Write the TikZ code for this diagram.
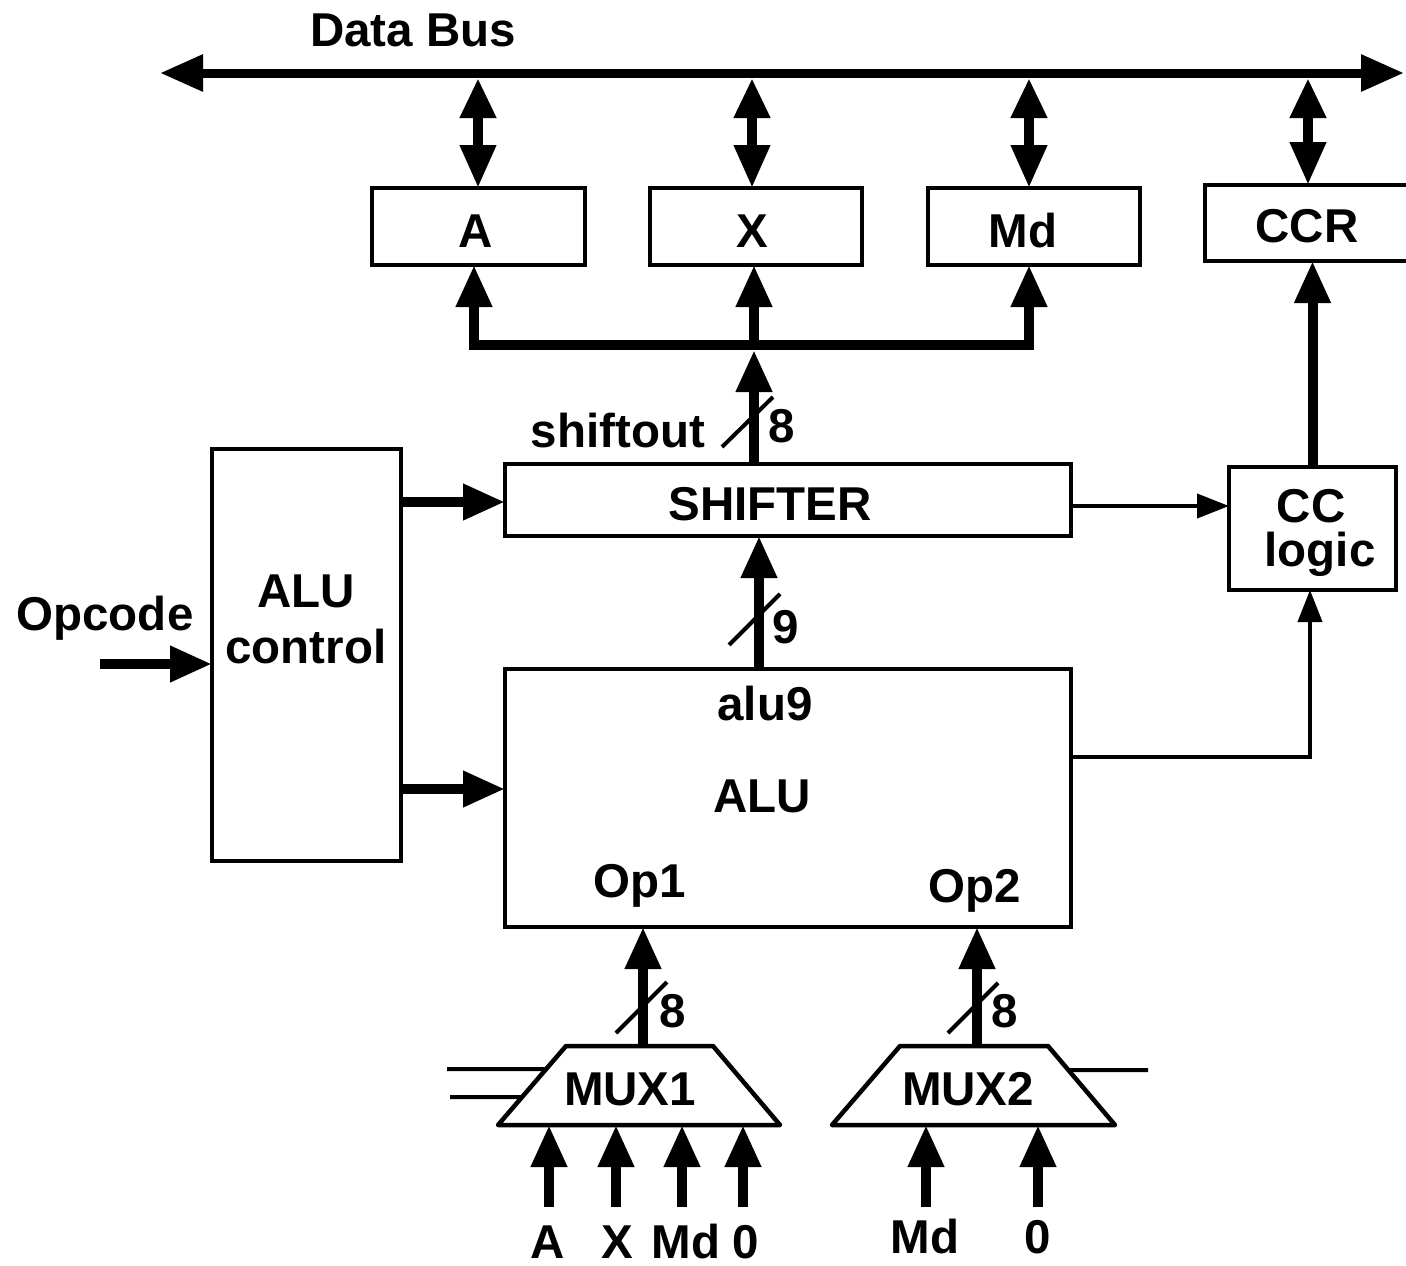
\documentclass[tikz,border=0pt]{standalone}
\usepackage{fontspec}
\setmainfont{Liberation Sans}
\usetikzlibrary{arrows.meta,calc}

\tikzset{
  txt/.style={font=\bfseries\fontsize{47.5}{52}\selectfont, inner sep=0pt, outer sep=0pt},
  box/.style={draw, line width=4pt, txt},
  bigtip/.tip={Triangle[length=42pt,width=34pt]},
  bigarrow/.style={line width=10pt, -bigtip},
  bidir/.style={line width=10pt, {Triangle[length=40pt,width=34pt]}-{Triangle[length=43pt,width=34pt]}},
  busline/.style={line width=9pt, {Triangle[length=43pt,width=35pt]}-{Triangle[length=43pt,width=35pt]}},
  thinarrow/.style={line width=4pt, -{Triangle[length=32pt,width=24pt]}},
  thinline/.style={line width=4pt},
  muxline/.style={line width=4.5pt, line join=round},
  lbl/.style={txt, anchor=base},
}

\begin{document}
\begin{tikzpicture}[x=1pt, y=-1pt]
\useasboundingbox (0,0) rectangle (1406,1266);
\clip (0,0) rectangle (1406,1266);

% registers
\node[box, minimum width=213pt, minimum height=77pt] (A)   at (478.5,226.5) {};
\node[box, minimum width=212pt, minimum height=77pt] (X)   at (756,226.5)   {};
\node[box, minimum width=212pt, minimum height=77pt] (Md)  at (1034,226.5)  {};
\node[box, minimum width=213pt, minimum height=76pt] (CCR) at (1311.5,223)  {};
\node[lbl] (Aname)   at (476,247)  {A};
\node[lbl] (Xname)   at (752,247)  {X};
\node[lbl] (Mdname)  at (1023,247) {Md};
\node[lbl] (CCRname) at (1307,242) {CCR};

% processing blocks
\node[box, minimum width=566pt, minimum height=72pt]  (SH)  at (788,500) {};
\node[lbl] (SHname) at (770,520) {SHIFTER};
\node[box, minimum width=167pt, minimum height=123pt] (CC) at (1312.5,528.5) {};
\node[lbl] (CCname1) at (1311,522) {CC};
\node[lbl] (CCname2) at (1320,566) {logic};
\node[box, minimum width=189pt, minimum height=412pt] (CTL) at (306.5,655) {};
\node[txt, align=center, font=\bfseries\fontsize{47.5}{56}\selectfont] (CTLtext) at (306,619) {ALU\\control};
\node[box, minimum width=566pt, minimum height=258pt] (ALU) at (788,798) {};

% labels inside the ALU
\node[lbl] (alu9) at (765,720) {alu9};
\node[lbl] (ALUname) at (762,812) {ALU};
\node[lbl] (op1) at (640,897) {Op1};
\node[lbl] (op2) at (975,902) {Op2};

% data bus
\coordinate (busL) at (160,73);
\coordinate (busR) at (1404,73);
\draw[busline] (busL) -- (busR);
\node[lbl] (busname) at (413,46) {Data Bus};

% bus to register links
\coordinate (busE) at (0,78);
\coordinate (cA) at (478,0);
\coordinate (cX) at (752,0);
\coordinate (cMd) at (1029,0);
\coordinate (cCCR) at (1308,0);
\draw[bidir] (cA |- busE) -- (cA |- A.north);
\draw[bidir] (cX |- busE) -- (cX |- X.north);
\draw[bidir] (cMd |- busE) -- (cMd |- Md.north);
\draw[bidir] (cCCR |- busE) -- (cCCR |- CCR.north);

% shifter output bus
\coordinate (ibus) at (0,345);
\coordinate (ibusB) at (0,350);
\coordinate (iA) at (474,0);
\coordinate (iX) at (754,0);
\coordinate (iMd) at (1029,0);
\draw[line width=10pt, line join=miter, bigtip-bigtip]
  (iA |- A.south) -- (iA |- ibus) -- (iMd |- ibus) -- (iMd |- Md.south);
\draw[bigarrow] (iX |- ibus) -- (iX |- X.south);
\draw[bigarrow] (iX |- SH.north) -- (iX |- ibusB);
\draw[thinline] (722,447) -- (773,397);
\node[lbl] (w8a) at (782,442) {8};
\node[txt, anchor=base east] (shiftout) at (705,447) {shiftout};

% condition codes
\draw[bigarrow] (CC.north) -- (CC.north |- CCR.south);
\draw[thinarrow] ([yshift=-6pt]SH.east) -- ([yshift=-6pt]CC.west |- SH.east);
\coordinate (cc2) at (1310,757);
\draw[thinarrow] (ALU.east |- cc2) -| (cc2 |- CC.south);

% ALU control
\coordinate (c789) at (0,789);
\coordinate (c502) at (0,502);
\draw[bigarrow] (CTL.east |- c502) -- (SH.west |- c502);
\draw[bigarrow] (CTL.east |- c789) -- (ALU.west |- c789);
\coordinate (opin) at (100,664);
\draw[bigarrow] (opin) -- (CTL.west |- opin);
\node[lbl] (opcode) at (105,630) {Opcode};

% ALU to shifter
\coordinate (c758) at (759,0);
\draw[bigarrow] (c758 |- ALU.north) -- (c758 |- SH.south);
\draw[thinline] (729,645) -- (780,594);
\node[lbl] (w9) at (786,643) {9};

% multiplexers
\draw[muxline] (566,1046) coordinate (m1tl) -- (713,1046) coordinate (m1tr)
  -- (780,1125) coordinate (m1br) -- (498,1125) coordinate (m1bl) -- cycle;
\draw[muxline] (900,1046) coordinate (m2tl) -- (1048,1046) coordinate (m2tr)
  -- (1115,1125) coordinate (m2br) -- (832,1125) coordinate (m2bl) -- cycle;
\node[lbl] (mux1) at (630,1105) {MUX1};
\node[lbl] (mux2) at (968,1105) {MUX2};

% select lines
\coordinate (s1) at (447,1069);
\coordinate (s2) at (450,1097);
\coordinate (s3) at (1148,1070);
\draw[thinline] (s1) -- ($(m1bl)!0.709!(m1tl)$);
\draw[thinline] (s2) -- ($(m1bl)!0.354!(m1tl)$);
\draw[thinline] ($(m2br)!0.696!(m2tr)$) -- (s3);

% operands into the ALU
\coordinate (m1out) at (643,1046);
\coordinate (m2out) at (977,1046);
\draw[bigarrow] (m1out) -- (m1out |- ALU.south);
\draw[bigarrow] (m2out) -- (m2out |- ALU.south);
\draw[thinline] (616,1033) -- (667,982);
\draw[thinline] (948,1033) -- (998,983);
\node[lbl] (w8b) at (673,1027) {8};
\node[lbl] (w8c) at (1005,1027) {8};

% multiplexer inputs
\coordinate (in1) at (549,1207);
\coordinate (in2) at (616,1207);
\coordinate (in3) at (682,1207);
\coordinate (in4) at (743,1207);
\coordinate (in5) at (926,1207);
\coordinate (in6) at (1038,1207);
\foreach \p in {in1,in2,in3,in4}{\draw[bigarrow] (\p) -- (\p |- m1bl);}
\foreach \p in {in5,in6}{\draw[bigarrow] (\p) -- (\p |- m2bl);}
\node[lbl] (lA)  at (548,1258) {A};
\node[lbl] (lX)  at (617,1258) {X};
\node[lbl] (lMd) at (686,1258) {Md};
\node[lbl] (l0)  at (746,1258) {0};
\node[lbl] (lMd2) at (925,1253) {Md};
\node[lbl] (l02)  at (1038,1253) {0};
\end{tikzpicture}
\end{document}
